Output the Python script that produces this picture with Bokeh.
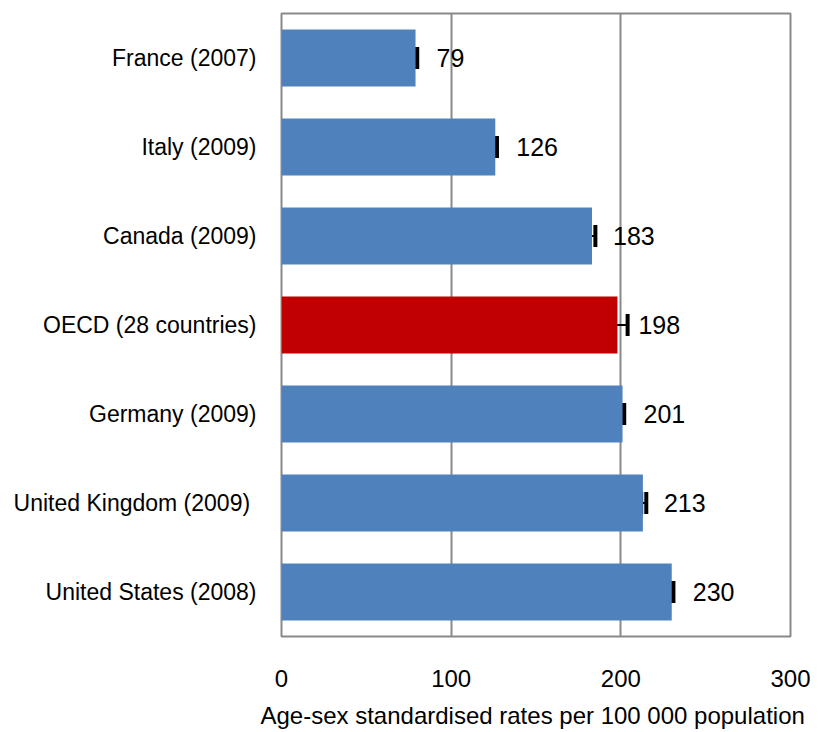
from bokeh.plotting import figure
from bokeh.models import ColumnDataSource, FactorRange, Whisker, TeeHead, Range1d, FixedTicker
from bokeh.core.properties import value
from bokeh.embed import file_html
from bokeh.resources import INLINE

countries = ["France (2007)", "Italy (2009)", "Canada (2009)", "OECD (28 countries)",
             "Germany (2009)", "United Kingdom  (2009)", "United States (2008)"]
rates = [79, 126, 183, 198, 201, 213, 230]
err_low = [78, 125, 181, 194, 200, 212, 229]
err_high = [80, 127, 185, 204, 202, 215, 231]
x_ticks = [0, 100, 200, 300]
x_title = "Age-sex standardised rates per 100 000  population"

colors = ["#C00000" if c.startswith("OECD") else "#4F81BD" for c in countries]
labels = [str(v) for v in rates]

src = ColumnDataSource(dict(country=countries, rate=rates, lo=err_low, hi=err_high,
                            color=colors, label=labels))

FONT = "Liberation Sans"

p = figure(width=818, height=732, output_backend="svg", toolbar_location=None,
           y_range=FactorRange(factors=list(reversed(countries)), range_padding=0),
           x_range=Range1d(0, 300),
           min_border_left=281, min_border_right=28, min_border_top=13, min_border_bottom=96)

p.hbar(y="country", right="rate", left=0, height=0.64, color="color", line_color=None, source=src)

w = Whisker(base="country", lower="lo", upper="hi", dimension="width", source=src,
            line_color="black", line_width=2,
            lower_head=TeeHead(size=22, line_width=4, line_color="black"),
            upper_head=TeeHead(size=22, line_width=4, line_color="black"))
p.add_layout(w)

p.text(x="rate", y="country", text="label", source=src, x_offset=21,
       text_align="left", text_baseline="middle", text_font=value(FONT),
       text_font_size="25px", text_color="black")

p.outline_line_color = "#898989"
p.outline_line_width = 2
p.xgrid.grid_line_color = "#898989"
p.xgrid.grid_line_width = 2
p.ygrid.grid_line_color = None
p.xaxis.ticker = FixedTicker(ticks=x_ticks)

p.xaxis.axis_line_color = None
p.xaxis.major_tick_line_color = None
p.xaxis.minor_tick_line_color = None
p.xaxis.major_label_standoff = 27
p.xaxis.major_label_text_font = FONT
p.xaxis.major_label_text_font_size = "24px"
p.xaxis.major_label_text_color = "black"
p.xaxis.axis_label = x_title
p.xaxis.axis_label_text_font = FONT
p.xaxis.axis_label_text_font_size = "24px"
p.xaxis.axis_label_text_font_style = "normal"
p.xaxis.axis_label_text_color = "black"
p.xaxis.axis_label_standoff = 12

p.yaxis.axis_line_color = None
p.yaxis.major_tick_line_color = None
p.yaxis.minor_tick_line_color = None
p.yaxis.major_label_standoff = 19
p.yaxis.major_label_text_font = FONT
p.yaxis.major_label_text_font_size = "23px"
p.yaxis.major_label_text_color = "black"

open("out.html", "w").write(file_html(p, INLINE))
